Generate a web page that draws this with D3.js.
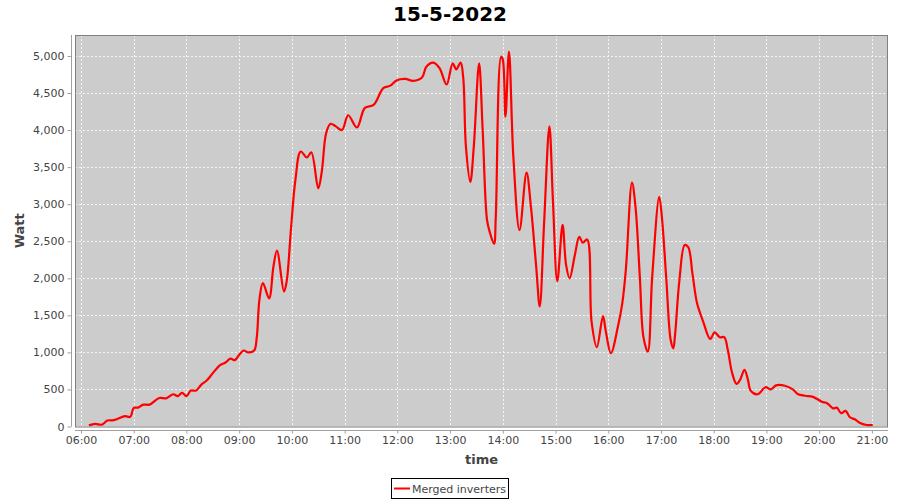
<!DOCTYPE html>
<html lang="en">
<head>
<meta charset="UTF-8" />
<title>15-5-2022</title>
<style>
  html, body { margin:0; padding:0; background:#fff; }
  svg { display:block; font-family:"DejaVu Sans", sans-serif; }
  .tick text { fill:#444; font-size:11px; }
</style>
</head>
<body>
<svg id="chart" width="900" height="500"></svg>
<script src="https://d3js.org/d3.v7.min.js"></script>
<script>
// readings of the day (time of day, watt)
const times = [
  "06:09","06:16","06:24","06:30","06:37","06:42","06:50","06:56","07:00","07:05",
  "07:11","07:18","07:29","07:37","07:45","07:50","07:55","08:00","08:05","08:11",
  "08:17","08:23","08:30","08:38","08:44","08:50","08:55","08:59","09:05","09:10",
  "09:17","09:20","09:23","09:27","09:34","09:39","09:43","09:51","09:54","09:59",
  "10:04","10:10","10:17","10:22","10:30","10:34","10:39","10:44","10:50","10:57",
  "11:04","11:14","11:23","11:33","11:44","11:52","11:59","12:09","12:18","12:28",
  "12:33","12:41","12:48","12:56","13:03","13:07","13:12","13:15","13:18","13:23",
  "13:27","13:33","13:37","13:42","13:45","13:50","13:52","13:58","14:00","14:03",
  "14:07","14:12","14:19","14:27","14:32","14:38","14:42","14:47","14:53","14:57",
  "15:02","15:08","15:12","15:16","15:22","15:27","15:31","15:36","15:41","15:47",
  "15:54","15:57","16:03","16:11","16:16","16:20","16:27","16:31","16:36","16:40",
  "16:45","16:50","16:58","17:01","17:06","17:11","17:14","17:16","17:21","17:27",
  "17:31","17:36","17:41","17:48","17:56","18:01","18:07","18:12","18:16","18:21",
  "18:26","18:30","18:35","18:39","18:42","18:50","18:59","19:05","19:11","19:21",
  "19:30","19:36","19:44","19:53","20:03","20:09","20:16","20:20","20:25","20:30",
  "20:35","20:41","20:46","20:54","21:01"
];
const watts = [
  15,35,25,80,85,105,140,130,250,255,
  295,295,385,380,435,410,455,410,485,485,
  565,620,720,825,860,915,895,950,1025,1000,
  1025,1200,1710,1935,1730,2160,2375,1820,1955,2675,
  3330,3710,3630,3700,3215,3440,3960,4085,4050,4000,
  4200,4035,4300,4340,4565,4600,4670,4690,4665,4710,
  4855,4910,4835,4615,4900,4820,4910,4700,3780,3300,
  3780,4900,4025,2790,2630,2465,2830,4990,4950,4180,
  5060,3640,2650,3425,2965,2155,1620,2750,4050,3060,
  1960,2720,2180,2000,2315,2560,2480,2525,1415,1070,
  1490,1300,990,1350,1665,2115,3290,2965,2000,1210,
  1010,2020,3100,2830,2000,1170,1055,1235,1980,2450,
  2420,2045,1665,1415,1180,1270,1205,1205,1035,720,
  575,630,765,630,485,435,530,500,555,550,
  500,435,415,400,335,315,245,255,180,210,
  125,95,50,20,20
];
const yTicks = [0,500,1000,1500,2000,2500,3000,3500,4000,4500,5000];
const seriesName = "Merged inverters";
const chartTitle = "15-5-2022";

const parse = d3.timeParse("%Y-%m-%d %H:%M:%S");
const day = "2022-05-15 ";
const data = times.map((t, i) => ({ t: parse(day + t + ":00"), w: watts[i] }));

// plot area
const plotL = 75, plotR = 888, plotT = 35, plotB = 426.5;

const x = d3.scaleTime()
  .domain([parse(day + "05:53:10"), parse(day + "21:18:20")])
  .range([plotL, plotR]);
const y = d3.scaleLinear().domain([0, 5283]).range([plotB, plotT]);

const svg = d3.select("#chart");

// title
svg.append("text")
  .attr("x", 450).attr("y", 21)
  .attr("text-anchor", "middle")
  .attr("font-size", "20px").attr("font-weight", "bold")
  .attr("fill", "#000")
  .text(chartTitle);

// plot background
svg.append("rect")
  .attr("x", plotL).attr("y", plotT)
  .attr("width", plotR - plotL).attr("height", plotB - plotT)
  .attr("fill", "#cccccc");

// grid
const grid = svg.append("g").attr("stroke", "#f4f4f4").attr("stroke-width", 1)
  .attr("stroke-dasharray", "2,2");
x.ticks(d3.timeHour.every(1)).forEach(d => {
  grid.append("line")
    .attr("x1", Math.round(x(d)) + 0.5).attr("x2", Math.round(x(d)) + 0.5)
    .attr("y1", plotT).attr("y2", plotB);
});
yTicks.forEach(v => {
  grid.append("line")
    .attr("x1", plotL).attr("x2", plotR)
    .attr("y1", Math.round(y(v)) + 0.5).attr("y2", Math.round(y(v)) + 0.5);
});

// line
const line = d3.line()
  .x(d => x(d.t))
  .y(d => y(d.w))
  .curve(d3.curveCatmullRom.alpha(0.5));

svg.append("path")
  .datum(data)
  .attr("fill", "none")
  .attr("stroke", "#ff0000")
  .attr("stroke-width", 2.2)
  .attr("stroke-linejoin", "round")
  .attr("d", line);

// plot border
svg.append("rect")
  .attr("x", plotL + 0.5).attr("y", plotT + 0.5)
  .attr("width", plotR - plotL - 1).attr("height", plotB - plotT)
  .attr("fill", "none").attr("stroke", "#808080");

// axes
const xAxis = svg.append("g")
  .attr("transform", `translate(0,430.5)`)
  .call(d3.axisBottom(x)
    .ticks(d3.timeHour.every(1))
    .tickFormat(d3.timeFormat("%H:%M"))
    .tickSize(3).tickPadding(3));
xAxis.select(".domain").attr("stroke", "#a0a0a0").attr("d", `M${plotL},0H${plotR}`);
xAxis.selectAll(".tick line").attr("stroke", "#a0a0a0");
xAxis.selectAll(".tick text").attr("font-family", "DejaVu Sans");

const yAxis = svg.append("g")
  .attr("transform", `translate(71.5,0)`)
  .call(d3.axisLeft(y)
    .tickValues(yTicks)
    .tickFormat(d3.format(","))
    .tickSize(4).tickPadding(3));
yAxis.select(".domain").attr("stroke", "#a0a0a0").attr("d", `M0,${plotT}V${plotB}`);
yAxis.selectAll(".tick line").attr("stroke", "#a0a0a0");
yAxis.selectAll(".tick text").attr("font-family", "DejaVu Sans");

// axis labels
svg.append("text")
  .attr("transform", `translate(24,${(plotT + plotB) / 2}) rotate(-90)`)
  .attr("text-anchor", "middle")
  .attr("font-size", "13px").attr("font-weight", "bold")
  .attr("fill", "#444")
  .text("Watt");

svg.append("text")
  .attr("x", (plotL + plotR) / 2).attr("y", 464)
  .attr("text-anchor", "middle")
  .attr("font-size", "13px").attr("font-weight", "bold")
  .attr("fill", "#444")
  .text("time");

// legend
const lg = svg.append("g");
lg.append("rect")
  .attr("x", 391.5).attr("y", 478.5)
  .attr("width", 117).attr("height", 20)
  .attr("fill", "#fff").attr("stroke", "#000");
lg.append("line")
  .attr("x1", 394).attr("x2", 410)
  .attr("y1", 488.5).attr("y2", 488.5)
  .attr("stroke", "#ff0000").attr("stroke-width", 2);
lg.append("text")
  .attr("x", 412).attr("y", 492.5)
  .attr("font-size", "11px").attr("fill", "#444")
  .text(seriesName);
</script>
</body>
</html>
